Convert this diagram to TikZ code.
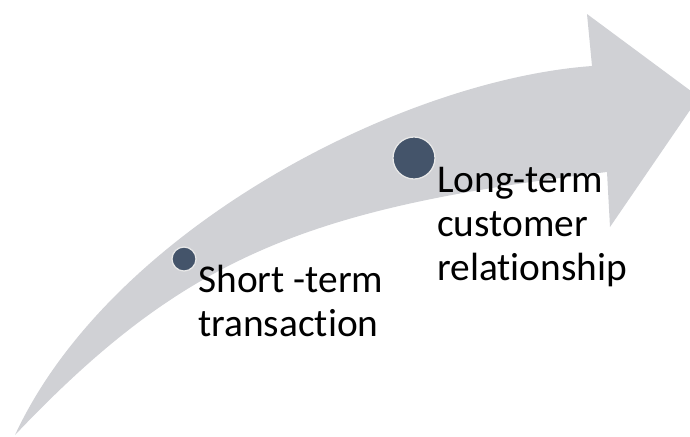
\documentclass[tikz,border=0pt]{standalone}
\usepackage{fontspec}
\setmainfont{Carlito}[Ligatures=NoCommon]
\usepackage{tikz}

\definecolor{arrowgray}{RGB}{208,209,213}
\definecolor{dotblue}{RGB}{68,84,106}
\definecolor{dotrim}{RGB}{232,232,232}

\tikzset{
  dot/.style={circle,fill=dotblue,draw=dotrim,line width=0.9pt,inner sep=0pt},
  steplabel/.style={anchor=base west,align=left,inner sep=0pt,
    font=\fontsize{28}{31}\selectfont}
}

\begin{document}
\begin{tikzpicture}[x=0.025cm,y=-0.025cm]
\useasboundingbox (0,0) rectangle (690,436);
\clip (0,0) rectangle (690,436);
\fill[arrowgray] (15,435) .. controls (110,230) and (400,80) .. (592,66)
  -- (587,14) -- (699,97) -- (610,227) -- (607,172)
  .. controls (307,208) and (185,256) .. (15,435) -- cycle;
\node[dot,minimum size=0.6cm] (shortdot) at (184,259) {};
\node[dot,minimum size=1.05cm] (longdot) at (414,158) {};
% base of a multi-line node is its last line
\node[steplabel] (shortlbl) at (198,336) {Short -term\\transaction};
\node[steplabel] (longlbl) at (437,280) {Long-term\\customer\\relationship};
\end{tikzpicture}
\end{document}
